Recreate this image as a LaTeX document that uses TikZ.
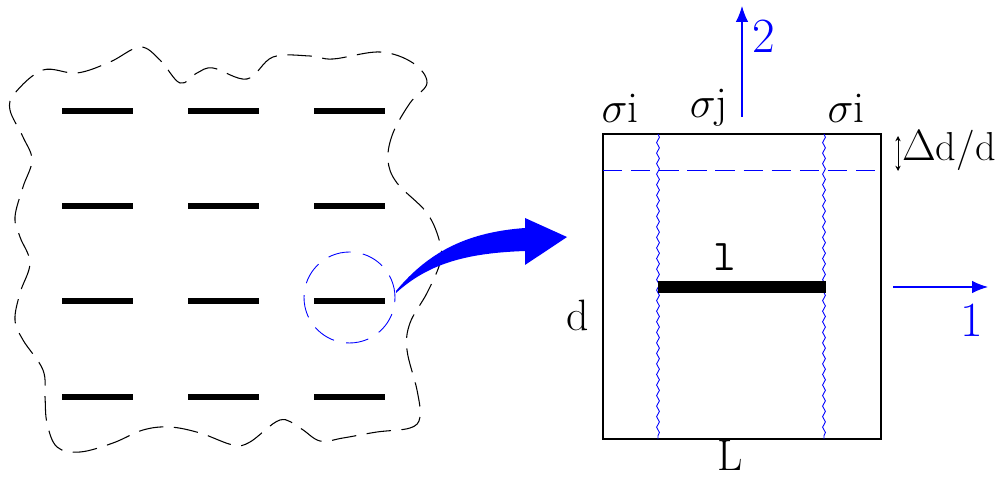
\documentclass[tikz,border=0pt]{standalone}
\usetikzlibrary{decorations.pathmorphing}
\usetikzlibrary{positioning, arrows.meta}
\tikzset{
	crack/.style={line width=3pt},
	bigcrack/.style={line width=6.8pt},
	outline/.style={black, line width=.6pt, dash pattern=on 14pt off 6pt},
	zoomring/.style={blue, line width=.5pt, dash pattern=on 13pt off 7pt},
	band/.style={blue, line width=.5pt, dash pattern=on 11pt off 5pt},
	bound/.style={blue, line width=.5pt, decorate, decoration={snake, amplitude=.8pt, segment length=6pt}},
	axis/.style={blue, line width=.6pt, -{Latex[length=9pt,width=7pt]}},
	lbl/.style={font=\fontsize{25}{30}\selectfont\rmfamily, inner sep=0pt},
	blbl/.style={lbl, text=blue}
}

\begin{document}
\begin{tikzpicture}[x=0.02cm, y=-0.02cm]
\useasboundingbox (0,0) rectangle (998,479);
% wavy plate outline
\draw[outline] plot[smooth cycle, tension=.6] coordinates {
 (15,93) (43,70) (77,73) (110,62) (140,47) (160,60) (180,83) (197,73)
 (213,68) (247,79) (273,57) (310,56) (333,59) (380,52) (413,63) (427,83)
 (410,103) (393,133) (388,160) (397,183) (427,213) (440,243) (440,263)
 (427,293) (410,323) (407,350) (417,390) (420,417) (410,428) (377,432)
 (343,438) (320,441) (300,428) (280,420) (250,442) (233,445) (200,433)
 (170,427) (143,430) (113,443) (80,452) (57,447) (47,423) (45,397)
 (43,370) (23,340) (15,320) (20,293) (30,263) (20,237) (15,217) (23,187)
 (32,160) (23,137) (10,110)};
% array of cracks
\foreach \cx in {62,188,314} {
  \foreach \cy in {111,206,301,397} {
    \draw[crack] (\cx,\cy) -- ++(71,0);
  }
}
% zoom circle and arrow
\coordinate (ring) at (349.5,297.5);
\draw[zoomring] (ring) circle [radius=0.91cm];
\coordinate (tail) at (396,291);
\coordinate (tip) at (567,237);
\fill[blue] (tail) .. controls (430,250) and (470,232) .. (525,228)
  -- (525,218) -- (tip) -- (525,265) -- (525,251)
  .. controls (470,253) and (430,262) .. (396,293) -- cycle;
% cell
\coordinate (sw) at (603,439);
\coordinate (ne) at (881,134);
\draw[line width=.6pt] (sw) rectangle (ne);
\draw[band] (603,170) -- (881,170);
\draw[bound] (658,134) -- (658,439);
\draw[bound] (824,134) -- (824,439);
\draw[bigcrack] (658,287) -- (826,287);
\node[lbl, font=\fontsize{25}{30}\selectfont\ttfamily] (len) at (725,257) {l};
\node[lbl] (wid) at (730,456) {L};
\node[lbl] (hgt) at (578,315) {d};
\node[lbl] (sl) at (620,108) {$\sigma$i};
\node[lbl] (sm) at (709,108) {$\sigma$j};
\node[lbl] (sr) at (846,108) {$\sigma$i};
\node[lbl, font=\fontsize{23}{28}\selectfont, anchor=east] (dd) at (996,150) {$\Delta$d/d};
\coordinate (dtop) at (898,136);
\coordinate (dbot) at (898,171);
\draw[line width=.5pt, {Stealth[length=3pt,width=3pt]}-{Stealth[length=3pt,width=3pt]}] (dtop) -- (dbot);
% axes
\coordinate (o1) at (893,287);
\coordinate (e1) at (988,287);
\draw[axis] (o1) -- (e1);
\node[blbl, font=\fontsize{28}{32}\selectfont\rmfamily] (one) at (972,320) {1};
\coordinate (o2) at (742,117);
\coordinate (e2) at (742,6);
\draw[axis] (o2) -- (e2);
\node[blbl, font=\fontsize{28}{32}\selectfont\rmfamily] (two) at (764,36) {2};
\end{tikzpicture}
\end{document}
